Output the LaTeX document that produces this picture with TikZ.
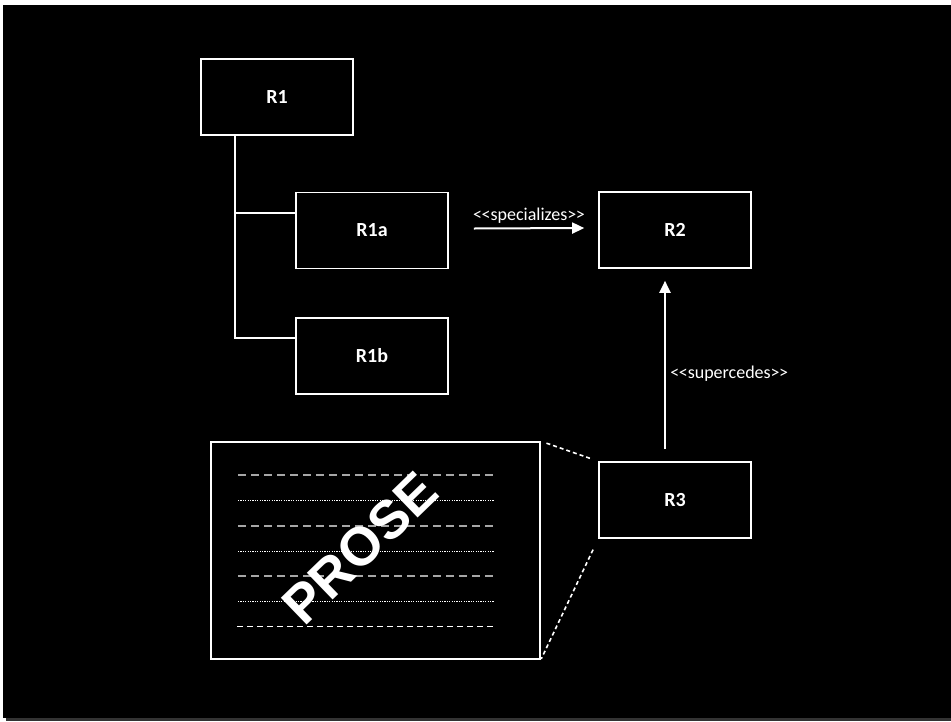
\documentclass[tikz,border=0pt]{standalone}
\usepackage{fontspec}
\setmainfont{Carlito}
\newfontfamily\prosefont{Liberation Sans}
\usepackage{tikz}
\usetikzlibrary{arrows.meta}

\tikzset{
  rbox/.style={draw=white, line width=1.6pt, minimum width=152pt, minimum height=76pt, inner sep=0pt, text=white, font=\bfseries\fontsize{20}{22}\selectfont},
  tree/.style={white, line width=1.6pt},
  rel/.style={white, line width=2pt, -{Triangle[length=12pt,width=11pt]}},
  rellabel/.style={text=white, font=\fontsize{18}{20}\selectfont},
  zoomline/.style={white, line width=1.6pt, dash pattern=on 4pt off 3pt},
}
% stereotype brackets, kept apart so they do not turn into guillemets
\newcommand{\stereo}[1]{<\kern-0.5pt<#1>\kern-0.5pt>}

\begin{document}
\begin{tikzpicture}[x=1pt,y=-1pt]
\useasboundingbox (0,0) rectangle (951,721);
\fill[white] (0,0) rectangle (951,721);
\fill[black] (3,5) rectangle (951,718);
\fill[black!80!white] (6,718) rectangle (951,721);

% requirement boxes
\node[rbox] (R1) at (277,97) {R1};
\node[rbox] (R1a) at (372,230.5) {R1a};
\node[rbox] (R1b) at (372,356) {R1b};
\node[rbox] (R2) at (675,230) {R2};
\node[rbox] (R3) at (675,500) {R3};

% tree under R1
\draw[tree] ([xshift=35pt]R1.south west) |- (R1a.167);
\draw[tree] ([xshift=35pt]R1.south west) |- (R1b.167);

% relations
\draw[rel] ([xshift=25pt,yshift=2pt]R1a.east) -- ([xshift=-14pt,yshift=2pt]R2.west) node[rellabel, midway, above=1pt] {\stereo{specializes}};
\draw[rel] ([xshift=-10pt,yshift=12pt]R3.north) -- ([xshift=-10pt,yshift=-12pt]R2.south) node[rellabel, pos=0.45, right=1pt] {\stereo{supercedes}};

% the prose page
\node[draw=white, line width=1.6pt, minimum width=329pt, minimum height=217pt] (prose) at (375.5,550.5) {};
\foreach \y in {475,526,576}
  \draw[gray!70, line width=1.5pt, dash pattern=on 8pt off 5pt] (238,\y) -- (494,\y);
\foreach \y in {500,551,601}
  \draw[white, line width=0.8pt, dash pattern=on 1.2pt off 1.2pt] (238,\y) -- (494,\y);
\draw[white, line width=1pt, dash pattern=on 6pt off 4pt] (237,626) -- (494,626);
\node[text=white, font=\prosefont\bfseries\fontsize{54}{60}\selectfont, rotate=44] (stamp) at (360,548) {PROSE};

% zoom lines from R3 to its page
\draw[zoomline, shorten <=6pt, shorten >=8pt] (prose.north east) -- (R3.north west);
\draw[zoomline, shorten <=12pt, shorten >=1pt] (R3.south west) -- (prose.south east);
\end{tikzpicture}
\end{document}
